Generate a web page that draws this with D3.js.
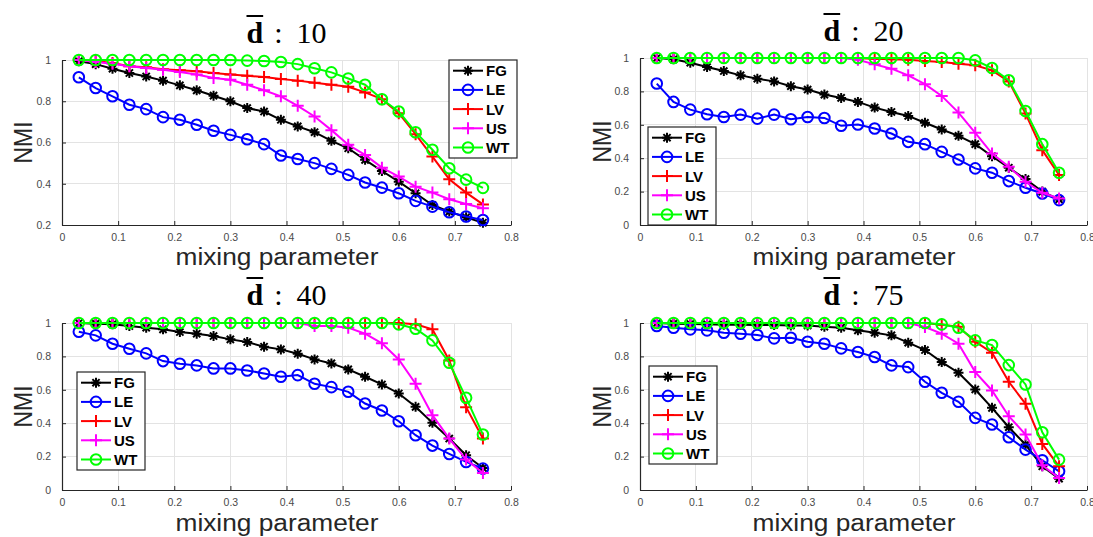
<!DOCTYPE html>
<html><head><meta charset="utf-8">
<script src="https://cdn.jsdelivr.net/npm/d3@7"></script>
<style>body{margin:0;background:#fff}</style></head>
<body><svg id="c" width="1093" height="537"></svg>
<script>
const mixing = [0.03,0.06,0.09,0.12,0.15,0.18,0.21,0.24,0.27,0.30,0.33,0.36,0.39,0.42,0.45,0.48,0.51,0.54,0.57,0.60,0.63,0.66,0.69,0.72,0.75];
const xTicks = [0,0.1,0.2,0.3,0.4,0.5,0.6,0.7,0.8];
const xTickLabels = ["0","0.1","0.2","0.3","0.4","0.5","0.6","0.7","0.8"];
const yTicksFirst = [0.2,0.4,0.6,0.8,1];
const yTickLabelsFirst = ["0.2","0.4","0.6","0.8","1"];
const yTicksOther = [0,0.2,0.4,0.6,0.8,1];
const yTickLabelsOther = ["0","0.2","0.4","0.6","0.8","1"];
const degreeLabels = ["10","20","40","75"];
const seriesNames = ["FG","LE","LV","US","WT"];

// d = 10
const fg10 = [0.994,0.98,0.958,0.937,0.92,0.90,0.877,0.853,0.827,0.80,0.767,0.75,0.71,0.678,0.65,0.608,0.572,0.516,0.462,0.41,0.354,0.297,0.265,0.237,0.211];
const le10 = [0.916,0.864,0.824,0.783,0.762,0.723,0.71,0.686,0.657,0.637,0.616,0.592,0.537,0.52,0.50,0.472,0.443,0.406,0.381,0.354,0.317,0.289,0.262,0.241,0.224];
const lv10 = [1.0,0.995,0.985,0.97,0.965,0.955,0.95,0.945,0.937,0.93,0.924,0.917,0.908,0.90,0.89,0.88,0.87,0.843,0.81,0.742,0.64,0.532,0.422,0.357,0.30];
const us10 = [1.0,0.99,0.982,0.97,0.961,0.953,0.942,0.93,0.913,0.904,0.88,0.853,0.824,0.778,0.726,0.66,0.589,0.54,0.478,0.435,0.386,0.357,0.325,0.302,0.281];
const wt10 = [1,1,1,1,1,1,1,1,1,1,0.997,0.995,0.99,0.98,0.96,0.94,0.91,0.88,0.81,0.75,0.65,0.565,0.475,0.42,0.38];
// d = 20
const fg20 = [1,0.992,0.972,0.946,0.922,0.896,0.876,0.86,0.831,0.811,0.781,0.761,0.737,0.703,0.677,0.653,0.612,0.572,0.534,0.484,0.412,0.343,0.275,0.2,0.153];
const le20 = [0.847,0.737,0.691,0.663,0.647,0.661,0.637,0.661,0.633,0.647,0.641,0.594,0.602,0.578,0.548,0.498,0.484,0.438,0.392,0.339,0.313,0.263,0.223,0.189,0.149];
const lv20 = [1,1,1,1,1,1,1,1,1,1,1,1,0.998,0.995,0.993,0.99,0.982,0.976,0.966,0.956,0.926,0.86,0.667,0.448,0.30];
const us20 = [1,1,1,1,1,1,1,1,1,1,1,1,0.99,0.962,0.936,0.896,0.843,0.773,0.673,0.552,0.428,0.349,0.259,0.193,0.159];
const wt20 = [1,1,1,1,1,1,1,1,1,1,1,1,1,1,1,1,1,1,1,0.986,0.94,0.867,0.683,0.484,0.313];
// d = 40
const fg40 = [1,0.996,0.992,0.982,0.972,0.962,0.946,0.936,0.922,0.902,0.886,0.858,0.842,0.816,0.782,0.758,0.722,0.678,0.632,0.578,0.498,0.402,0.308,0.208,0.132];
const le40 = [0.948,0.926,0.876,0.846,0.818,0.772,0.756,0.746,0.728,0.728,0.716,0.698,0.678,0.688,0.636,0.616,0.588,0.518,0.476,0.412,0.328,0.266,0.216,0.168,0.128];
const lv40 = [1,1,1,1,1,1,1,1,1,1,1,1,1,1,1,1,1,1,1,1,0.992,0.962,0.776,0.496,0.308];
const us40 = [1,1,1,1,1,1,1,1,1,1,1,1,1,1,0.982,0.982,0.972,0.936,0.878,0.782,0.636,0.448,0.308,0.182,0.102];
const wt40 = [1,1,1,1,1,1,1,1,1,1,1,1,1,1,1,1,1,1,1,0.992,0.966,0.896,0.762,0.552,0.332];
// d = 75
const fg75 = [1,0.996,0.994,0.992,0.99,0.99,0.988,0.988,0.985,0.985,0.978,0.972,0.956,0.942,0.926,0.882,0.838,0.766,0.702,0.602,0.492,0.376,0.272,0.142,0.068];
const le75 = [0.982,0.972,0.962,0.956,0.942,0.936,0.928,0.908,0.912,0.888,0.876,0.848,0.826,0.796,0.746,0.736,0.648,0.582,0.528,0.432,0.392,0.316,0.242,0.178,0.112];
const lv75 = [1,1,1,1,1,1,1,1,1,1,1,1,1,1,1,1,1,0.99,0.978,0.888,0.822,0.648,0.516,0.276,0.142];
const us75 = [1,1,1,1,1,1,1,1,1,1,1,1,1,1,1,1,0.976,0.936,0.876,0.706,0.596,0.442,0.332,0.148,0.072];
const wt75 = [1,1,1,1,1,1,1,1,1,1,1,1,1,1,1,1,1,0.992,0.972,0.896,0.868,0.748,0.632,0.346,0.182];

const styles = {
  FG:{color:"#000000", marker:"star"},
  LE:{color:"#0000ff", marker:"circle"},
  LV:{color:"#ff0000", marker:"plus"},
  US:{color:"#ff00ff", marker:"plus"},
  WT:{color:"#00ff00", marker:"circle"}
};

const panels = [
  {deg:degreeLabels[0], series:[fg10,le10,lv10,us10,wt10], yDom:[0.2,1], yT:yTicksFirst, yL:yTickLabelsFirst,
   x0:62, x1:511, yTop:60, yBot:225, titleY:43, legend:{x:449,y:60}, xlabY:265, xlabX:277, ylabX:32},
  {deg:degreeLabels[1], series:[fg20,le20,lv20,us20,wt20], yDom:[0,1], yT:yTicksOther, yL:yTickLabelsOther,
   x0:640, x1:1087, yTop:58, yBot:225, titleY:41, legend:{x:648,y:127}, xlabY:265, xlabX:854, ylabX:611},
  {deg:degreeLabels[2], series:[fg40,le40,lv40,us40,wt40], yDom:[0,1], yT:yTicksOther, yL:yTickLabelsOther,
   x0:62, x1:511, yTop:323, yBot:490, titleY:305, legend:{x:77,y:372}, xlabY:531, xlabX:277, ylabX:32},
  {deg:degreeLabels[3], series:[fg75,le75,lv75,us75,wt75], yDom:[0,1], yT:yTicksOther, yL:yTickLabelsOther,
   x0:640, x1:1087, yTop:323, yBot:490, titleY:305, legend:{x:649,y:366}, xlabY:531, xlabX:854, ylabX:611}
];

const svg = d3.select("#c");
svg.append("rect").attr("width",1093).attr("height",537).attr("fill","#fff");

function drawMarker(g, type, x, y, color){
  if(type==="circle"){
    g.append("circle").attr("cx",x).attr("cy",y).attr("r",5.3).attr("fill","none").attr("stroke",color).attr("stroke-width",2);
  } else if(type==="plus"){
    const s=6;
    g.append("path").attr("d",`M${x-s},${y}H${x+s}M${x},${y-s}V${y+s}`).attr("stroke",color).attr("stroke-width",2).attr("fill","none");
  } else {
    const s=5, d=3.6;
    g.append("path").attr("d",`M${x-s},${y}H${x+s}M${x},${y-s}V${y+s}M${x-d},${y-d}L${x+d},${y+d}M${x-d},${y+d}L${x+d},${y-d}`)
      .attr("stroke",color).attr("stroke-width",2).attr("fill","none");
  }
}

panels.forEach(p=>{
  const g = svg.append("g");
  const x = d3.scaleLinear().domain([0,0.8]).range([p.x0,p.x1]);
  const y = d3.scaleLinear().domain(p.yDom).range([p.yBot,p.yTop]);

  // grid
  g.append("g").selectAll("line").data(xTicks.slice(1)).join("line")
    .attr("x1",d=>x(d)).attr("x2",d=>x(d)).attr("y1",p.yTop).attr("y2",p.yBot)
    .attr("stroke","#e3e3e3").attr("stroke-width",1).attr("shape-rendering","crispEdges");
  g.append("g").selectAll("line").data(p.yT.slice(1)).join("line")
    .attr("y1",d=>y(d)).attr("y2",d=>y(d)).attr("x1",p.x0).attr("x2",p.x1)
    .attr("stroke","#e3e3e3").attr("stroke-width",1).attr("shape-rendering","crispEdges");

  // axes
  const xa = d3.axisBottom(x).tickValues(xTicks).tickFormat((d,i)=>xTickLabels[i]).tickSizeInner(-4).tickSizeOuter(0).tickPadding(9);
  const ya = d3.axisLeft(y).tickValues(p.yT).tickFormat((d,i)=>p.yL[i]).tickSizeInner(-4).tickSizeOuter(0).tickPadding(11);
  const gx = g.append("g").attr("transform",`translate(0,${p.yBot})`).call(xa);
  const gy = g.append("g").attr("transform",`translate(${p.x0},0)`).call(ya);
  [gx,gy].forEach(a=>{
    a.select(".domain").attr("stroke","#262626").attr("stroke-width",1.2);
    a.selectAll(".tick line").attr("stroke","#262626");
    a.selectAll("text").attr("font-family","Liberation Sans, Arial, sans-serif").attr("font-size",10.5).attr("fill","#4a4a4a");
  });

  // lines & markers
  const lineGen = d3.line().x((d,i)=>x(mixing[i])).y(d=>y(d));
  p.series.forEach((vals,si)=>{
    const st = styles[seriesNames[si]];
    const sg = g.append("g");
    sg.append("path").datum(vals).attr("d",lineGen).attr("fill","none").attr("stroke",st.color).attr("stroke-width",2);
    vals.forEach((v,i)=>drawMarker(sg, st.marker, x(mixing[i]), y(v), st.color));
  });

  // legend
  const lg = g.append("g").attr("transform",`translate(${p.legend.x},${p.legend.y})`);
  lg.append("rect").attr("x",0).attr("y",0).attr("width",68).attr("height",98).attr("fill","#fff").attr("stroke","#262626").attr("stroke-width",1.2);
  seriesNames.forEach((n,i)=>{
    const st = styles[n];
    const cy = 10.7 + i*19.2;
    lg.append("line").attr("x1",4).attr("x2",34).attr("y1",cy).attr("y2",cy).attr("stroke",st.color).attr("stroke-width",2);
    drawMarker(lg, st.marker, 19, cy, st.color);
    lg.append("text").attr("x",37).attr("y",cy+5.5).text(n)
      .attr("font-family","Liberation Sans, Arial, sans-serif").attr("font-weight","bold").attr("font-size",15).attr("fill","#000");
  });

  // axis labels
  g.append("text").attr("x",p.xlabX).attr("y",p.xlabY).attr("text-anchor","middle").text("mixing parameter")
    .attr("font-family","Liberation Sans, Arial, sans-serif").attr("font-size",23)
    .attr("textLength",203).attr("lengthAdjust","spacingAndGlyphs").attr("fill","#262626");
  g.append("text").attr("transform",`translate(${p.ylabX},${(p.yTop+p.yBot)/2}) rotate(-90)`).attr("text-anchor","middle").text("NMI")
    .attr("font-family","Liberation Sans, Arial, sans-serif").attr("font-size",25)
    .attr("textLength",42).attr("lengthAdjust","spacingAndGlyphs").attr("fill","#262626");

  // title: bold d with overline, then ": NN"
  const tg = g.append("g");
  const tF = "Liberation Serif, DejaVu Serif, serif";
  const dT = tg.append("text").attr("x",0).attr("y",p.titleY).text("d").attr("font-family",tF).attr("font-weight","bold").attr("font-size",30).attr("fill","#000");
  const dw = dT.node().getComputedTextLength();
  const cT = tg.append("text").attr("x",dw+11).attr("y",p.titleY).text(":").attr("font-family",tF).attr("font-size",30).attr("fill","#000");
  const cw = cT.node().getComputedTextLength();
  const nT = tg.append("text").attr("x",dw+11+cw+14).attr("y",p.titleY).text(p.deg).attr("font-family",tF).attr("font-size",30).attr("fill","#000");
  const nw = nT.node().getComputedTextLength();
  tg.append("line").attr("x1",0).attr("x2",dw).attr("y1",p.titleY-27).attr("y2",p.titleY-27).attr("stroke","#000").attr("stroke-width",2);
  const total = dw+11+cw+14+nw;
  tg.attr("transform",`translate(${(p.x0+p.x1)/2 - total/2},0)`);
});
</script></body></html>
